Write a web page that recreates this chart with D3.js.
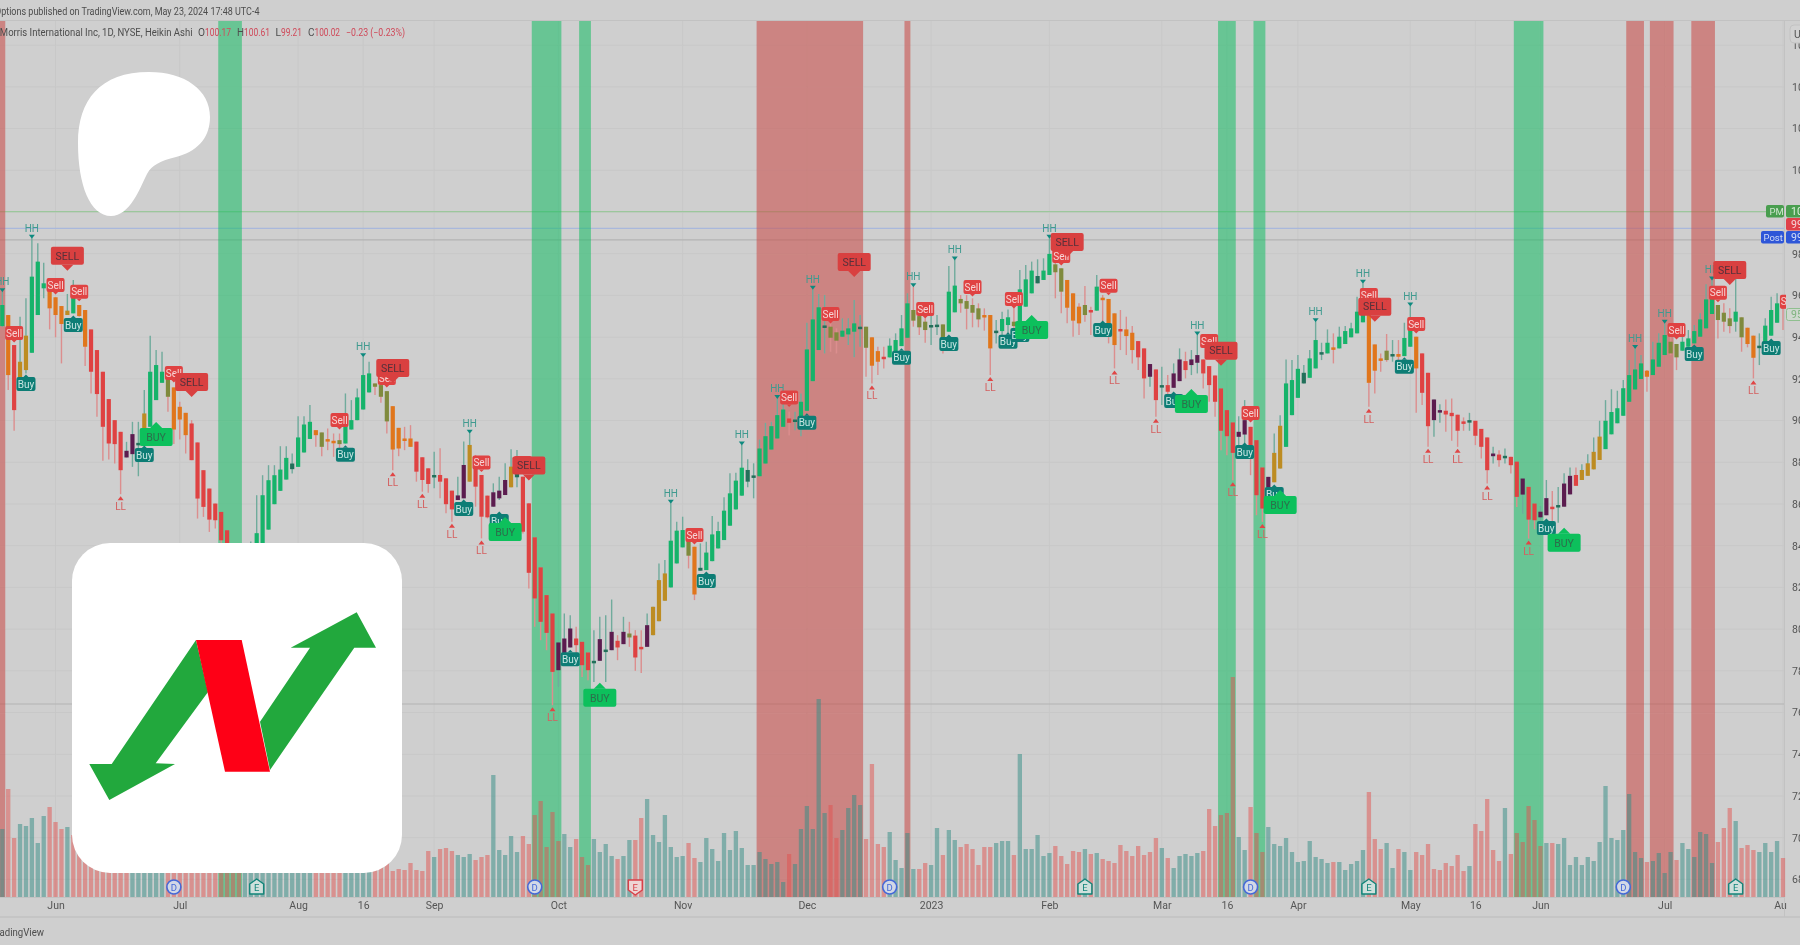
<!DOCTYPE html>
<html><head><meta charset="utf-8">
<script src="https://cdn.jsdelivr.net/npm/d3@7"></script>
<style>html,body{margin:0;padding:0;background:#cfcfcf;overflow:hidden}svg{display:block}</style>
</head><body><svg id="c" width="1800" height="945"></svg>
<script>
// ---------- candle data (Heikin Ashi; bars hidden by the logo are estimates) ----------
const candleKinds = ("goryygggoo"+"oygoorrrrr"+"rppdygggvo"+"oorrrrrrrr"+"pdyggggggd"+"gggovoovgg"+"gggvvvoooo"+"rrrdrrrppy"+"rrrpppydrr"+"rrrrppprrr"
 +"dpdprpvrrp"+"yyygggvodg"+"ggggggddgg"+"gggrdggggd"+"vvgggdvoor"+"ggggvvvddv"+"ggvvvvoodg"+"gvgggdggvv"+"ooovrgooor"+"oorrprdrpp"
 +"rpprrrrrrp"+"prrrpyyggg"+"dggdgogggg"+"gooovdoggo"+"rrpprrrrdr"+"rrprdrrprr"+"pprdppryyy"+"ygggggggog"+"ggvvgggggg"+"vvvgvoodgg"+"gr").split("");
const bodyTop = [
95.54,95.06,93.62,92.82,94.07,96.90,97.62,96.58,96.42,95.91,
95.49,95.27,96.34,95.54,95.30,94.37,93.38,92.34,91.03,90.02,
89.46,88.55,89.35,88.93,90.34,92.34,92.66,92.34,92.02,91.59,
90.66,90.37,89.86,88.95,87.62,86.74,86.02,85.62,84.74,83.80,
83.20,82.90,83.50,84.60,86.42,87.14,87.38,87.65,88.21,87.94,
89.19,89.81,89.94,89.54,89.43,89.11,89.03,89.06,90.18,90.02,
91.11,92.18,92.26,91.78,91.70,91.41,90.69,89.65,89.14,89.14,
88.99,88.24,87.71,87.39,87.39,87.23,86.64,86.41,87.87,88.83,
88.24,87.39,86.40,86.56,86.64,87.15,87.79,87.44,87.31,86.03,
84.40,82.96,81.63,80.75,79.36,79.55,80.03,79.55,79.39,78.88,
78.48,79.52,79.02,79.87,79.44,79.87,79.79,79.69,79.15,80.19,
81.07,82.35,82.67,84.24,84.72,84.75,84.27,83.95,82.94,83.67,
84.54,84.70,85.68,86.51,87.12,87.74,87.63,87.37,88.66,89.25,
89.73,90.26,90.53,90.10,90.05,90.90,93.41,94.85,95.43,94.56,
94.50,94.23,94.31,94.42,94.66,94.50,94.50,93.99,93.33,93.06,
93.59,93.86,94.42,95.62,95.30,95.01,94.74,94.58,94.60,94.61,
96.18,96.47,95.83,95.73,95.54,95.38,95.06,95.06,94.31,94.87,
94.95,94.74,96.29,96.77,97.19,96.93,97.19,97.99,97.49,97.30,
96.74,96.10,95.46,95.54,95.30,96.42,95.89,95.83,95.14,94.39,
94.37,94.21,93.81,93.46,92.71,92.45,91.70,91.70,92.26,92.93,
92.85,92.93,93.14,92.93,92.61,92.16,91.54,90.50,89.91,89.46,
90.02,89.70,89.06,87.75,87.30,88.45,89.75,91.78,91.94,92.48,
92.29,92.98,93.86,93.28,93.73,93.51,94.02,94.29,94.42,95.22,
96.10,95.38,93.65,92.98,93.35,93.19,93.19,93.96,94.47,94.02,
93.22,92.29,91.01,90.50,90.47,90.37,90.28,89.96,90.02,89.99,
89.60,89.19,88.42,88.37,88.31,88.26,88.03,87.22,86.82,86.02,
85.63,86.28,85.87,85.95,86.98,87.35,87.39,87.63,87.95,88.50,
89.23,89.99,90.41,90.59,91.55,92.18,92.45,92.74,92.39,92.93,
93.73,94.10,93.78,93.67,93.78,93.94,94.29,94.85,95.81,95.94,
95.54,95.17,94.90,95.22,94.95,94.45,94.07,93.59,94.55,95.30,
95.62,96.02];
const bodyBottom = [
94.53,92.18,90.50,92.02,92.42,93.25,95.06,96.34,95.38,95.06,
94.63,95.06,95.14,95.01,93.54,92.34,91.27,89.70,88.90,88.87,
87.62,88.23,88.39,88.87,88.93,89.70,90.98,91.81,91.14,89.57,
90.05,89.30,88.10,86.26,85.86,85.25,85.22,84.26,83.62,82.90,
82.40,82.70,82.80,83.00,83.30,84.77,85.99,86.63,87.17,87.67,
87.78,88.47,89.12,89.30,88.74,89.08,89.00,88.87,88.90,89.57,
90.02,90.53,91.35,91.62,91.14,89.96,88.61,88.66,89.09,88.74,
87.55,87.15,86.96,87.36,87.07,85.99,85.74,86.19,86.27,87.07,
86.83,85.39,85.36,85.87,86.27,86.43,86.80,87.28,84.67,82.70,
81.47,80.35,79.82,77.95,78.03,78.67,79.12,79.23,78.27,78.03,
78.45,78.48,78.99,78.99,79.12,79.28,79.60,78.64,79.12,79.15,
79.71,80.38,81.36,82.00,83.15,83.92,83.52,81.66,82.80,82.83,
83.26,83.87,84.27,84.96,85.74,86.40,87.07,87.34,87.33,87.94,
88.61,89.14,89.70,89.89,90.02,90.02,90.47,91.89,93.38,94.44,
93.97,93.83,94.02,94.13,94.26,94.47,93.49,92.63,92.82,93.03,
93.03,93.22,93.57,93.97,94.79,94.47,94.34,94.55,94.56,93.94,
94.26,95.19,95.62,95.36,95.17,94.85,95.03,93.46,94.28,94.29,
94.58,94.53,94.66,95.46,96.10,96.58,96.74,96.98,97.11,96.18,
95.41,94.79,94.66,95.06,95.27,95.27,95.86,94.37,93.62,94.36,
94.05,93.38,93.03,92.02,92.10,90.98,91.67,91.38,91.57,91.89,
92.42,92.66,92.77,92.26,91.70,90.90,89.51,89.25,88.45,89.22,
89.33,88.58,86.42,85.78,86.74,87.04,87.70,88.74,90.26,91.09,
91.78,92.05,92.50,93.16,93.22,93.41,93.46,93.67,93.99,94.18,
94.71,91.81,92.39,92.95,92.90,93.15,93.06,93.09,93.54,92.50,
91.33,89.73,90.02,90.39,90.29,90.21,89.51,89.93,89.91,89.27,
88.74,87.62,88.29,88.10,88.26,87.86,86.34,86.45,85.25,85.22,
85.36,85.46,85.84,85.84,85.87,86.46,86.87,87.15,87.35,87.66,
88.11,88.63,89.34,89.87,90.23,90.90,91.49,91.99,92.10,92.18,
92.58,93.14,93.22,93.03,93.35,93.54,93.70,94.02,94.42,95.11,
94.82,94.74,94.53,94.74,93.99,93.67,93.01,93.54,93.54,94.07,
94.69,95.38];
const wickHigh = [
96.18,95.06,93.62,94.98,95.86,98.74,98.50,97.57,96.42,95.91,
95.49,96.07,96.74,95.54,95.30,94.37,93.38,92.34,91.03,90.02,
89.46,88.98,89.94,89.94,91.46,94.07,93.38,93.30,92.02,91.59,
90.90,90.37,90.02,88.95,87.62,86.74,86.02,85.62,84.74,83.90,
83.50,83.60,84.20,86.42,87.38,87.86,87.86,88.77,88.77,88.42,
90.21,90.21,90.74,89.54,89.43,89.62,89.38,89.38,91.30,90.98,
91.54,93.06,92.82,91.78,91.70,91.41,90.69,89.65,89.70,89.78,
88.99,88.24,87.71,88.51,88.67,87.23,86.64,87.31,88.99,89.39,
88.35,87.39,86.40,86.99,87.31,87.95,88.62,88.59,87.31,86.03,
84.40,82.96,81.63,80.75,79.36,80.75,80.67,80.11,79.39,78.88,
79.95,80.59,80.67,81.42,79.71,80.59,80.35,79.95,79.95,80.75,
81.07,83.15,83.31,86.03,85.15,85.39,84.27,83.95,84.11,84.19,
85.42,85.15,86.32,87.47,87.50,88.83,88.14,87.95,89.09,89.89,
89.94,91.06,90.90,90.42,90.42,91.30,94.69,96.29,96.07,96.02,
94.98,94.42,94.90,94.90,95.78,95.06,94.50,93.99,93.54,93.54,
93.94,94.18,95.06,96.10,96.42,95.62,94.90,95.06,95.06,94.61,
97.41,97.70,96.02,96.02,95.86,95.62,95.38,95.06,94.82,95.22,
95.33,95.78,97.22,97.46,97.62,97.73,97.78,98.74,97.94,97.30,
96.74,96.10,95.62,96.45,95.46,96.98,96.02,95.83,95.14,95.30,
94.98,94.53,93.81,93.46,92.71,92.45,92.58,92.18,92.74,93.46,
93.30,93.38,94.10,92.93,92.61,92.16,91.54,90.50,89.91,90.21,
90.98,89.70,89.06,87.75,87.30,89.38,90.26,92.93,92.90,93.14,
92.66,93.38,94.74,93.73,94.37,94.18,94.50,94.53,94.69,95.94,
96.58,95.38,93.65,93.22,94.15,93.86,93.86,94.69,95.49,94.02,
93.22,92.29,91.01,90.78,91.01,91.06,90.28,90.15,90.37,89.99,
89.60,89.19,88.74,88.58,88.66,88.26,88.03,87.22,86.82,86.02,
85.90,87.15,86.62,86.82,87.47,87.75,87.75,87.91,88.39,89.19,
89.99,90.98,91.50,91.43,91.95,92.90,93.46,93.14,92.42,93.78,
94.18,94.66,94.18,93.67,94.58,94.34,94.58,95.14,96.54,96.74,
95.54,95.62,95.38,96.82,94.95,94.45,94.07,94.18,94.90,95.94,
96.10,96.02];
const wickLow = [
94.50,91.46,89.51,91.94,92.26,93.25,95.06,95.86,94.37,93.99,
92.74,95.06,95.14,94.98,92.61,91.30,90.18,88.07,88.13,87.94,
86.47,88.23,87.78,87.33,88.93,89.70,90.98,91.81,90.42,88.87,
89.09,88.42,88.10,85.30,85.38,84.66,84.82,83.86,82.98,82.30,
81.90,82.30,82.60,82.90,83.30,84.77,85.99,86.63,87.17,87.46,
87.78,88.47,89.12,88.74,88.29,88.58,88.26,88.10,88.90,89.57,
90.02,90.53,91.35,91.22,90.85,89.38,87.62,88.29,88.58,88.74,
87.07,86.59,86.54,86.75,86.27,85.55,85.15,86.19,86.27,87.07,
85.87,84.35,85.31,85.87,86.19,86.43,86.80,86.80,84.59,81.95,
80.11,79.47,78.99,76.35,77.23,78.67,79.12,78.51,77.71,77.55,
77.47,78.48,77.47,78.99,78.51,79.28,79.15,78.00,77.90,79.15,
79.71,80.38,81.36,82.00,83.15,83.92,82.91,81.39,82.80,82.83,
83.26,83.87,84.27,84.96,85.74,86.40,86.80,86.27,87.33,87.94,
88.61,89.14,89.70,89.30,89.54,89.25,90.47,91.89,93.38,93.22,
93.30,93.22,94.02,93.62,93.03,93.54,92.10,91.78,92.18,92.50,
93.03,93.22,93.57,93.97,94.50,94.10,93.73,93.62,94.10,93.22,
94.26,95.19,95.17,94.37,94.47,94.47,94.31,92.18,93.70,93.86,
94.10,94.02,94.66,95.46,96.10,96.58,96.74,96.98,95.86,95.14,
94.66,94.02,94.10,94.74,94.10,95.27,94.10,93.70,92.50,93.38,
93.14,92.74,92.42,91.06,91.62,90.18,90.74,90.90,91.57,91.89,
92.02,92.18,92.26,91.54,90.90,90.18,88.58,88.34,87.14,88.74,
88.74,87.38,85.46,85.14,86.74,87.04,87.70,88.74,90.26,91.09,
91.78,92.05,92.50,92.90,93.22,92.74,93.46,93.67,93.99,94.18,
94.71,90.66,91.30,92.34,92.82,92.82,92.42,93.09,93.54,90.37,
90.74,88.74,89.22,89.89,89.46,89.03,88.74,89.51,89.51,88.82,
88.18,86.98,87.94,87.78,87.94,87.46,85.86,85.54,84.34,84.79,
85.15,85.46,84.99,85.10,85.87,86.46,86.87,87.15,87.35,87.66,
88.11,88.63,89.34,89.87,90.23,90.90,91.49,91.99,91.38,92.18,
92.58,93.14,93.14,92.42,93.35,93.54,93.70,94.02,94.42,95.11,
93.94,94.26,94.18,94.26,93.30,93.51,92.02,92.66,93.22,94.07,
94.69,94.34];
// ---------- volume (millions of shares) ----------
const volumes = [
6.8,10.8,5.9,7.3,7.1,7.9,5.4,8.1,9.0,7.5,6.8,7.0,
6.2,5.0,5.5,4.8,4.4,5.1,4.2,4.0,4.6,3.8,
5.2,4.1,3.5,3.9,4.7,3.6,
4.0,3.4,3.0,3.7,3.2,2.9,3.5,4.3,3.9,
6.0,7.5,5.5,6.5,4.8,
3.9,3.2,4.5,3.6,3.1,4.0,3.3,3.0,3.8,3.4,3.6,
3.5,3.0,3.2,2.8,3.4,3.1,3.6,2.9,3.3,3.8,
3.2,3.0,3.5,2.6,2.8,
2.7,3.4,2.7,2.6,4.6,4.0,4.8,4.9,4.6,4.2,
4.0,4.3,3.7,4.0,4.2,12.2,4.7,4.2,6.1,4.5,
6.1,5.3,8.2,9.6,5.0,8.5,5.6,6.3,5.0,5.8,
4.0,3.2,5.8,4.5,5.3,4.1,3.8,4.1,5.7,5.7,
7.9,9.8,6.2,5.5,8.2,5.0,4.0,4.1,5.4,3.9,
3.5,5.9,4.8,3.6,6.4,4.7,6.6,4.9,3.2,3.2,
4.5,3.8,3.3,3.5,1.5,4.3,3.3,6.8,9.1,6.8,
19.8,8.4,9.2,5.9,6.7,8.9,10.2,9.2,5.8,13.3,
5.3,5.0,6.5,3.7,2.9,6.4,2.8,2.8,3.4,3.2,
6.9,4.2,6.7,5.7,5.0,5.3,4.8,3.2,5.0,5.0,
5.4,5.6,5.6,4.2,14.3,4.8,4.8,6.2,4.1,4.4,
5.1,4.1,3.3,4.6,4.5,4.8,4.3,4.4,
3.8,3.6,3.4,5.2,4.6,4.1,5.1,4.2,4.5,5.9,
4.9,3.9,2.9,4.1,4.3,4.1,4.4,4.6,8.8,7.1,
8.2,8.4,22.0,6.0,4.7,9.0,6.4,4.5,7.0,5.3,
5.1,5.9,4.5,3.5,3.6,5.6,4.0,3.8,3.4,3.5,
3.5,2.7,3.3,3.6,4.7,10.5,5.8,4.8,5.4,2.9,
4.8,4.5,2.7,4.5,4.2,5.3,2.8,2.7,3.4,3.1,
4.2,2.6,3.1,7.3,6.6,9.8,4.7,3.6,8.9,4.3,
6.4,5.5,9.1,7.7,5.1,5.4,5.4,5.3,5.9,3.2,
4.0,3.2,4.0,3.6,5.5,11.1,5.9,5.7,6.7,10.3,
4.5,3.9,3.5,3.6,4.4,2.4,4.5,3.7,5.4,4.8,
4.0,6.5,6.3,3.4,5.5,6.9,8.9,7.6,4.9,5.2,
4.7,4.5,5.4,4.5,5.6,3.9];
const volumeDirs = ("trrtttttrr"+"rtrrrrrrrr"+"rrttttttrr"+"rrrrrrrrrr"+"rttttttttt"+"tttrrrrrtt"+"tttrrrrrrr"+"rrrtrrrttt"+"rrrtttttrr"+"rrrrrttrrr"
 +"ttttrttrrt"+"ttttttrrtt"+"tttttttttt"+"tttrtttttt"+"rrttttrrrr"+"tttttrrttr"+"ttrrrrrrtt"+"trttttttrr"+"rrrtrtrrrr"+"rrrrrrtrtt"
 +"tttrrrrrrt"+"trrrtttttt"+"tttttrtttt"+"trrrttrttr"+"rrrrrrrrtr"+"rrrrtrrrrr"+"rtrttttttt"+"ttttttttrt"+"tttrtttttt"+"rrrtrrrttt"+"tr").split("");
// ---------- highlighted bar ranges (first bar, last bar) ----------
const greenZones = [[37,40],[90,94],[98,99],[206,208],[212,213],[256,260]];
const redZones = [[0,0],[128,145],[153,153],[275,277],[279,282],[286,289]];
// ---------- signals: [bar, price] ----------
const bigSell = [[11,97.9],[32,91.85],[66,92.52],[89,87.84],[144,97.6],[180,98.56],[206,93.35],[232,95.46],[292,97.22]];
const bigBuy = [[26,89.21],[85,84.66],[101,76.71],[174,94.34],[201,90.79],[216,85.95],[264,84.14]];
const smallSell = [[9,96.5],[13,96.18],[2,94.2],[29,92.28],[65,92.04],[57,90.03],[81,87.99],[88,87.96],[117,84.51],[133,91.1],[140,95.11],[156,95.35],[164,96.4],[171,95.83],[179,97.89],[187,96.46],[204,93.81],[211,90.36],[231,96.02],[239,94.63],[283,94.34],[290,96.13],[302,95.7]];
const smallBuy = [[12,94.58],[4,91.75],[24,88.35],[58,88.36],[78,85.76],[84,85.18],[96,78.55],[119,82.31],[136,89.9],[152,93.01],[160,93.67],[170,93.78],[172,94.1],[186,94.34],[198,90.94],[210,88.49],[215,86.48],[237,92.58],[261,84.85],[286,93.19],[299,93.48]];
const higherHighBars = [0,5,61,79,113,125,131,137,154,161,177,202,222,230,238,276,281,289];
const lowerLowBars = [20,66,71,76,81,93,147,167,188,195,208,213,231,241,246,251,258,296];
const dividendBars = [29,90,150,211,274];
const earningsBars = [[43,"up"],[107,"down"],[183,"up"],[231,"up"],[293,"up"]];
// ---------- axes ----------
const priceTicks = [68,70,72,74,76,78,80,82,84,86,88,90,92,94,96,98,100,102,104,106,108];
const dateTicks = [[9,"Jun"],[30,"Jul"],[50,"Aug"],[61,"16"],[73,"Sep"],[94,"Oct"],[115,"Nov"],[136,"Dec"],[157,"2023"],[177,"Feb"],[196,"Mar"],[207,"16"],[219,"Apr"],[238,"May"],[249,"16"],[260,"Jun"],[281,"Jul"],[301,"Aug"]];
const priceLines = [[100.02,"#9cc79c"],[99.21,"#a9b8dc"],[98.66,"#b3b3b3"],[76.41,"#b3b3b3"]];

const n = bodyTop.length;

const W=1800,H=945,plotR=1784,plotT=21,plotB=897;
const x = d3.scaleLinear().domain([0,301]).range([2.3,1783]);
const barStep = x(1)-x(0);
const y = d3.scaleLinear().domain([68,98]).range([879.4,253.7]);
const yVol = d3.scaleLinear().domain([0,36]).range([plotB,plotB-360]);

const bodyColor = {g:"#13b36a",r:"#df4343",o:"#e0761c",y:"#bd8c24",v:"#7f8a3c",p:"#5b1f50",d:"#24705a"};
const wickColor = {g:"#6fab9c",r:"#dc8e8e",o:"#dc8e8e",y:"#6fab9c",v:"#dc8e8e",p:"#6fab9c",d:"#6fab9c"};

const svg = d3.select("#c").attr("viewBox",`0 0 ${W} ${H}`);
const defs = svg.append("defs");
defs.append("filter").attr("id","soft").attr("filterUnits","userSpaceOnUse")
  .attr("x",0).attr("y",0).attr("width",W).attr("height",H)
  .append("feGaussianBlur").attr("stdDeviation",0.62);
defs.append("clipPath").attr("id","plot").append("rect").attr("x",0).attr("y",plotT).attr("width",1786).attr("height",plotB-plotT);
defs.append("clipPath").attr("id","dates").append("rect").attr("x",0).attr("y",plotB).attr("width",1787).attr("height",30);

svg.append("rect").attr("width",W).attr("height",H).attr("fill","#cfcfcf");
const root = svg.append("g").attr("filter","url(#soft)");

// grid and axes
const priceAxis = d3.axisRight(y).tickValues(priceTicks).tickSize(0).tickPadding(8).tickFormat(d3.format(".2f"));
const gPrice = root.append("g").attr("transform",`translate(${plotR},0)`).call(priceAxis);
gPrice.select(".domain").remove();
gPrice.selectAll("text").attr("fill","#555").attr("font-family","Roboto, sans-serif").attr("font-size",10.5);
root.append("g").selectAll("line").data(priceTicks).join("line")
  .attr("x1",0).attr("x2",plotR).attr("y1",d=>y(d)).attr("y2",d=>y(d)).attr("stroke","#c8c8c8");
root.append("g").selectAll("line").data(dateTicks).join("line")
  .attr("x1",d=>x(d[0])).attr("x2",d=>x(d[0])).attr("y1",plotT).attr("y2",plotB).attr("stroke","#c8c8c8");
const dateLabel = new Map(dateTicks);
const dateAxis = d3.axisBottom(x).tickValues(dateTicks.map(d=>d[0])).tickSize(0).tickPadding(5).tickFormat(d=>dateLabel.get(d));
const gDate = root.append("g").attr("clip-path","url(#dates)").append("g").attr("transform",`translate(0,${plotB})`).call(dateAxis);
gDate.select(".domain").remove();
gDate.selectAll("text").attr("fill","#555").attr("font-family","Roboto, sans-serif").attr("font-size",10.5);

// frame lines
[[0,W,20.5,20.5],[0,plotR,897.5,897.5],[0,W,917,917]].forEach(l=>root.append("line").attr("x1",l[0]).attr("x2",l[1]).attr("y1",l[2]).attr("y2",l[3]).attr("stroke","#c2c2c2").attr("stroke-width",l[2]===917?1.5:1));
root.append("line").attr("x1",plotR+.5).attr("x2",plotR+.5).attr("y1",plotT).attr("y2",917).attr("stroke","#c2c2c2");

const plot = root.append("g").attr("clip-path","url(#plot)");
// price lines
plot.append("g").selectAll("line").data(priceLines).join("line")
  .attr("x1",0).attr("x2",plotR).attr("y1",d=>y(d[0])).attr("y2",d=>y(d[0])).attr("stroke",d=>d[1]).attr("stroke-width",1.2);
// zones
const zoneRect = (sel,data,color)=>sel.append("g").selectAll("rect").data(data).join("rect")
  .attr("x",d=>x(d[0])-barStep/2).attr("width",d=>(d[1]-d[0]+1)*barStep)
  .attr("y",plotT).attr("height",plotB-plotT).attr("fill",color).attr("fill-opacity",0.55);
zoneRect(plot,greenZones,"#14bd64");
zoneRect(plot,redZones,"#ca4945");
// volume
const indices = d3.range(n);
plot.append("g").selectAll("rect").data(indices).join("rect")
  .attr("x",i=>x(i)-2.15).attr("width",4.3)
  .attr("y",i=>yVol(volumes[i])).attr("height",i=>yVol(0)-yVol(volumes[i]))
  .attr("fill",i=>volumeDirs[i]==="t"?"#2f8b83":"#e1514f").attr("fill-opacity",0.5);
// candles
plot.append("g").selectAll("line").data(indices).join("line")
  .attr("x1",i=>x(i)).attr("x2",i=>x(i)).attr("y1",i=>y(wickHigh[i])).attr("y2",i=>y(wickLow[i]))
  .attr("stroke",i=>wickColor[candleKinds[i]]).attr("stroke-width",1.4);
plot.append("g").selectAll("rect").data(indices).join("rect")
  .attr("x",i=>x(i)-2.1).attr("width",4.2)
  .attr("y",i=>y(bodyTop[i])).attr("height",i=>Math.max(2.5,y(bodyBottom[i])-y(bodyTop[i])))
  .attr("fill",i=>bodyColor[candleKinds[i]]);

// HH / LL
const labelFont = "Roboto, sans-serif";
const hh = plot.append("g");
higherHighBars.forEach(i=>{
  const px=x(i),py=y(wickHigh[i]);
  hh.append("path").attr("d",`M${px-3},${py-3.5}L${px+3},${py-3.5}L${px},${py+.5}Z`).attr("fill","#0f8a7f");
  hh.append("text").attr("x",px).attr("y",py-6.5).attr("text-anchor","middle").attr("font-size",10).attr("font-family",labelFont).attr("fill","#3f9a8f").text("HH");
});
const ll = plot.append("g");
lowerLowBars.forEach(i=>{
  const px=x(i),py=y(wickLow[i]);
  ll.append("path").attr("d",`M${px-3},${py+6}L${px+3},${py+6}L${px},${py+2}Z`).attr("fill","#e04444");
  ll.append("text").attr("x",px).attr("y",py+16).attr("text-anchor","middle").attr("font-size",10).attr("font-family",labelFont).attr("fill","#d46060").text("LL");
});
// buy / sell tags
function tag(group,[i,p],w,h,ptr,up,fill,textFill,label,fs){
  const px=x(i),py=y(p);
  const g=group.append("g");
  g.append("rect").attr("x",px-w/2).attr("y",py-h/2).attr("width",w).attr("height",h).attr("rx",2).attr("fill",fill);
  const edge=up?py-h/2:py+h/2, tip=up?edge-ptr:edge+ptr;
  g.append("path").attr("d",`M${px-ptr},${edge}L${px+ptr},${edge}L${px},${tip}Z`).attr("fill",fill);
  g.append("text").attr("x",px).attr("y",py+fs*0.36).attr("text-anchor","middle").attr("font-size",fs).attr("font-family",labelFont).attr("fill",textFill).text(label);
}
const tags = plot.append("g");
smallBuy.forEach(d=>tag(tags,d,19,14,2.5,true,"#0f7d75","#c7e6e2","Buy",10));
smallSell.forEach(d=>tag(tags,d,18,14,2.5,false,"#e04242","#f6d4d4","Sell",10));
bigBuy.forEach(d=>tag(tags,d,33,18,6,true,"#09c05c","#2f6d4c","BUY",10.5));
bigSell.forEach(d=>tag(tags,d,33,18,6,false,"#d94040","#55303a","SELL",10.5));

// dividend and earnings markers
const markerY = 887;
const marks = plot.append("g");
dividendBars.forEach(i=>{
  marks.append("circle").attr("cx",x(i)).attr("cy",markerY).attr("r",7).attr("fill","#d2d8e6").attr("stroke","#4469d8").attr("stroke-width",1.6);
  marks.append("text").attr("x",x(i)).attr("y",markerY+3.5).attr("text-anchor","middle").attr("font-size",9.5).attr("font-family",labelFont).attr("fill","#4469d8").text("D");
});
earningsBars.forEach(([i,dir])=>{
  const px=x(i),s=dir==="up"?1:-1,c=dir==="up"?"#12857a":"#d8414a",bg=dir==="up"?"#cfe0dc":"#eed5d5";
  const pts=[[-7,7],[-7,-3],[0,-8],[7,-3],[7,7]].map(d=>[px+d[0],markerY+s*d[1]]);
  marks.append("path").attr("d","M"+pts.join("L")+"Z").attr("fill",bg).attr("stroke",c).attr("stroke-width",1.5).attr("stroke-linejoin","round");
  marks.append("text").attr("x",px).attr("y",markerY+3.5).attr("text-anchor","middle").attr("font-size",9.5).attr("font-family",labelFont).attr("fill",c).text("E");
});

// right side tags
const sideTag=(xx,yy,w,h,fill,stroke,txt,col,anchorX,fs)=>{
  root.append("rect").attr("x",xx).attr("y",yy).attr("width",w).attr("height",h).attr("rx",2).attr("fill",fill).attr("stroke",stroke||"none");
  root.append("text").attr("x",anchorX).attr("y",yy+h/2+3.5).attr("font-size",fs).attr("font-family",labelFont).attr("fill",col).text(txt);
};
sideTag(1766,205,18,12.5,"#4a9e4f",null,"PM","#cfe5cf",1769.5,9.5);
sideTag(1786,205,20,12.5,"#4a9e4f",null,"100.02","#dff0df",1791,10.5);
sideTag(1786,218,20,12.5,"#e0404a",null,"99.58","#f4d6d8",1791,10.5);
sideTag(1761,231,23,12.5,"#2f57d8",null,"Post","#d3dcf6",1763.5,9.5);
sideTag(1786,231,20,12.5,"#2f57d8",null,"99.21","#d3dcf6",1791,10.5);
sideTag(1786.5,308.5,20,12,"#cfd8cf","#8fbf8f","95.51","#7fb37f",1791,10.5);
root.append("rect").attr("x",1790).attr("y",25).attr("width",24).attr("height",18).attr("rx",4).attr("fill","#d2d2d2").attr("stroke","#c2c2c2");
root.append("text").attr("x",1794).attr("y",38).attr("font-size",10.5).attr("font-family",labelFont).attr("fill","#555").text("USD");

// header and footer text
const hdr=(xx,yy,txt,col,len)=>root.append("text").attr("x",xx).attr("y",yy).attr("font-size",10).attr("font-family",labelFont).attr("fill",col).attr("textLength",len).attr("lengthAdjust","spacingAndGlyphs").text(txt);
hdr(-5,15,"Options published on TradingView.com, May 23, 2024 17:48 UTC-4","#4d4d4d",264.5);
hdr(-26,35.5,"Philip Morris International Inc, 1D, NYSE, Heikin Ashi","#4d4d4d",218.5);
const valRed="#cf4a5a", labGrey="#4d4d4d";
hdr(198,35.5,"O",labGrey,7); hdr(205,35.5,"100.17",valRed,26);
hdr(237,35.5,"H",labGrey,7); hdr(244,35.5,"100.61",valRed,26);
hdr(275.5,35.5,"L",labGrey,5.5); hdr(281,35.5,"99.21",valRed,21);
hdr(308,35.5,"C",labGrey,6.5); hdr(314.5,35.5,"100.02",valRed,25.5);
hdr(346,35.5,"\u22120.23 (\u22120.23%)",valRed,59);
hdr(-9,935.5,"TradingView","#4d4d4d",53);

// white overlays on the picture
defs.append("filter").attr("id","softer").attr("filterUnits","userSpaceOnUse").attr("x",0).attr("y",0).attr("width",W).attr("height",H)
  .append("feGaussianBlur").attr("stdDeviation",0.5);
const logos = svg.append("g").attr("filter","url(#softer)");
logos.append("path").attr("fill","#fff")
  .attr("d","M149,72C185,72 210,90 210,117C210,140 195,152 176,157C160,161 152,165 147,174C140,188 130,216 111,216C90,216 78,185 78,143C78,100 100,72 149,72Z");
logos.append("rect").attr("x",72).attr("y",543).attr("width",330).attr("height",330).attr("rx",38).attr("fill","#fff");
logos.append("path").attr("fill","#24a83e")
  .attr("d","M196,640L208,692L155.7,763.3L175,764L109.3,800L89.3,764L111.7,764Z");
logos.append("path").attr("fill","#24a83e")
  .attr("d","M260,721.7L310,647.7L290.7,647.7L356.7,612.3L376,647.7L354.3,647.7L270,770Z");
logos.append("path").attr("fill","#fe0016")
  .attr("d","M196,640L241.7,640L270,771.7L225,771.7Z");
</script></body></html>
